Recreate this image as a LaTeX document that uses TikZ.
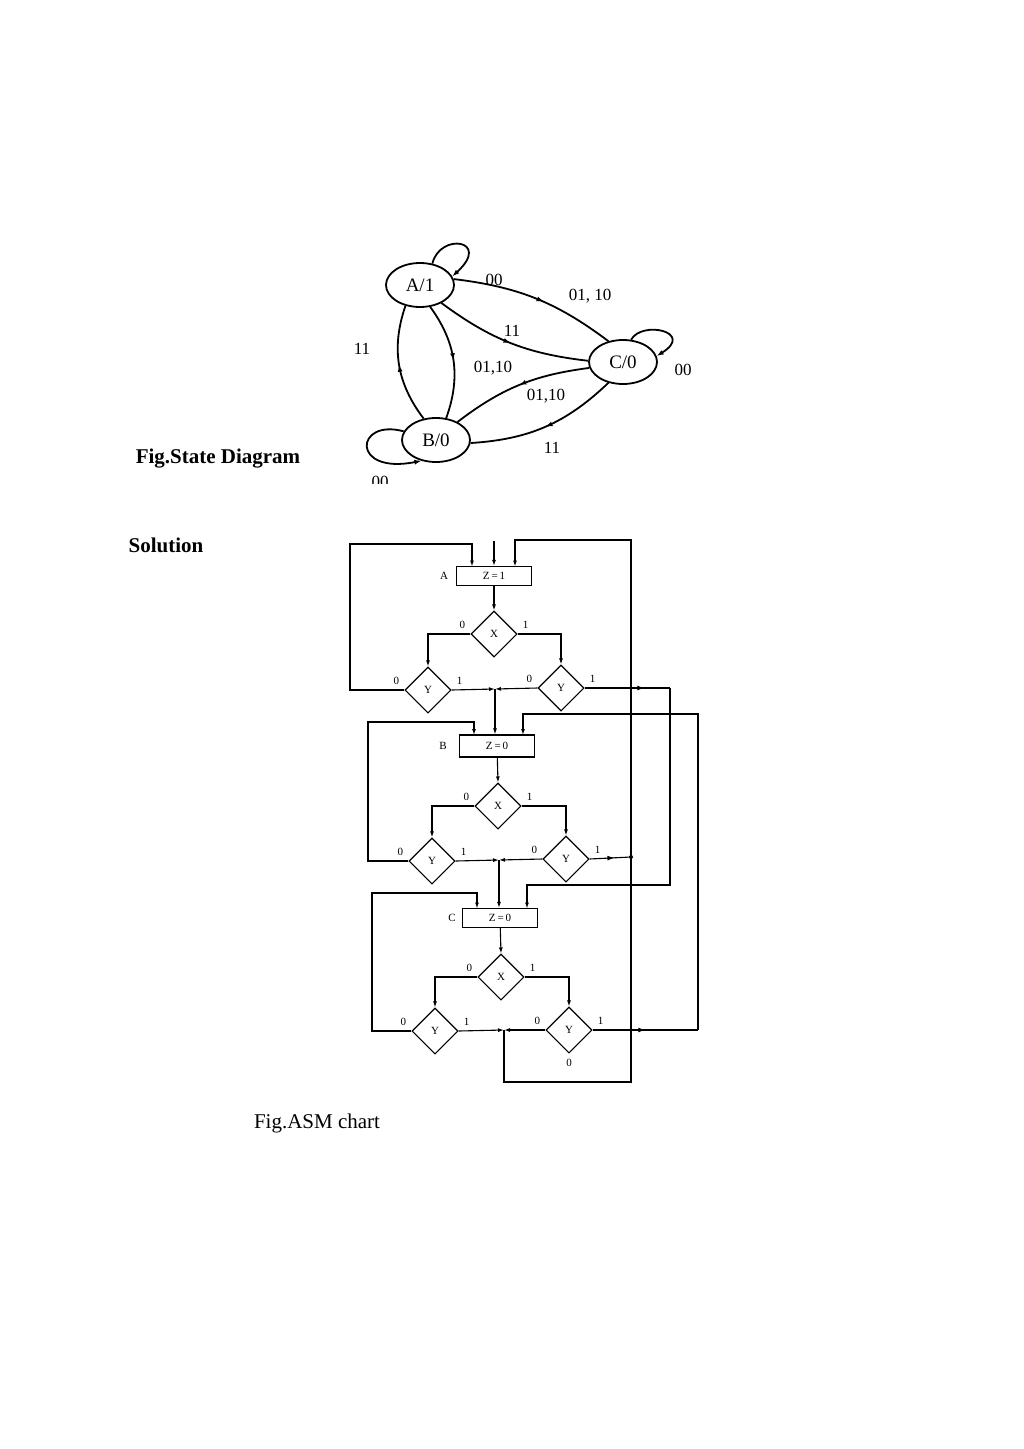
\documentclass[tikz,border=0pt]{standalone}
\usepackage{fontspec}
\setmainfont{Liberation Serif}
\usetikzlibrary{arrows.meta,shapes.geometric,decorations.markings}
\begin{document}
\begin{tikzpicture}[x=1pt,y=-1pt,
  st/.style={draw,ellipse,line width=1.8pt,minimum width=68pt,minimum height=44pt,inner sep=0pt,font=\fontsize{19}{20}\selectfont},
  sl/.style={font=\fontsize{17}{18}\selectfont},
  se/.style={line width=1.8pt},
  midarr/.style={postaction={decorate},decoration={markings,mark=at position #1 with {\arrow{Latex[length=7pt,width=5pt]}}}},
  asm/.style={line width=1.1pt},
  arr/.style={asm,-{Latex[length=6pt,width=4pt]}},
  dec/.style={diamond,draw,line width=1.1pt,minimum width=46pt,minimum height=46pt,inner sep=0pt,font=\fontsize{11}{12}\selectfont},
  stbox/.style={draw,rectangle,line width=1.1pt,minimum width=75pt,minimum height=19pt,inner sep=0pt,font=\fontsize{11}{12}\selectfont},
  lb/.style={font=\fontsize{11}{12}\selectfont}]
\useasboundingbox (0,0) rectangle (1024,1449);
\fill[white] (0,0) rectangle (1024,1449);
% ---------- State diagram ----------
\begin{scope}
\clip (330,240) rectangle (710,483);
\node[st] (A) at (420,285) {A/1};
\node[st] (B) at (436,440) {B/0};
\node[st] (C) at (623,362) {C/0};
\draw[se,-{Latex[length=7pt,width=5pt]}] (A.60) .. controls (440,232) and (492,240) .. (A.15);
\draw[se,-{Latex[length=7pt,width=5pt]}] (C.70) .. controls (642,320) and (695,332) .. (C.10);
\draw[se,-{Latex[length=7pt,width=5pt]}] (B.165) .. controls (355,418) and (350,475) .. (B.-125);
\draw[se,midarr=0.55] (A.10) to[bend left=15] (C.125);
\draw[se,midarr=0.5] (A.-40) to[bend right=15] (C.178);
\draw[se,midarr=0.5] (B.120) to[bend left=28] (A.-125);
\draw[se,midarr=0.5] (A.-65) to[bend left=28] (B.65);
\draw[se,midarr=0.5] (C.190) to[bend right=15] (B.40);
\draw[se,midarr=0.5] (C.-125) to[bend left=20] (B.-5);
\node[sl] at (494,280) {00};
\node[sl] at (590,296) {01, 10};
\node[sl] at (512,331) {11};
\node[sl] at (362,349) {11};
\node[sl] at (493,368) {01,10};
\node[sl] at (546,396) {01,10};
\node[sl] at (552,448) {11};
\node[sl] at (683,370) {00};
\node[sl] at (380,482) {00};
\end{scope}
\node[font=\fontsize{21}{24}\selectfont\bfseries] at (218,459) {Fig.State Diagram};
\node[font=\fontsize{21}{24}\selectfont\bfseries] at (166,545) {Solution};
\node[font=\fontsize{21}{24}\selectfont] at (317,1123) {Fig.ASM chart};
% ---------- ASM chart ----------
% block A
\node[stbox] (ba) at (494,576) {Z\,=\,1};
\node[lb] at (444,576) {A};
\node[dec] (xa) at (494,634) {X};
\node[dec] (ya1) at (428,690) {Y};
\node[dec] (ya2) at (561,688) {Y};
\coordinate (ja) at (495,689);
% block B
\node[stbox,minimum height=22pt] (bb) at (497,746) {Z\,=\,0};
\node[lb] at (443,746) {B};
\node[dec] (xb) at (498,806) {X};
\node[dec] (yb1) at (432,861) {Y};
\node[dec] (yb2) at (566,859) {Y};
\coordinate (jb) at (499,860);
% block C
\node[stbox] (bc) at (500,918) {Z\,=\,0};
\node[lb] at (452,918) {C};
\node[dec] (xc) at (501,977) {X};
\node[dec] (yc1) at (435,1031) {Y};
\node[dec] (yc2) at (569,1030) {Y};
\coordinate (jc) at (504,1030);
% labels
\foreach \n/\dx in {xa/0,xb/0,xc/0,ya1/0,ya2/0,yb1/0,yb2/0,yc1/0,yc2/0}{
  \node[lb] at ([xshift=-8pt,yshift=9pt]\n.west) {0};
  \node[lb] at ([xshift=8pt,yshift=9pt]\n.east) {1};
}
\node[lb] at ([yshift=-9pt]yc2.south) {0};
% flow inside blocks
\foreach \b/\x/\ya/\yb/\j in {ba/xa/ya1/ya2/ja,bb/xb/yb1/yb2/jb,bc/xc/yc1/yc2/jc}{
  \draw[arr] (\b) -- (\x.north);
  \draw[arr] (\x.west) -| (\ya.north);
  \draw[arr] (\x.east) -| (\yb.north);
  \draw[arr] (\ya.east) -- (\j);
  \draw[arr] (\yb.west) -- (\j);
}
\draw[arr] (ja) -- (ja |- bb.north);
\draw[arr] (jb) -- (jb |- bc.north);
% entry into A
\coordinate (ina) at (494,541);
\draw[arr] (ina) -- (ba.north);
% left self loops
\draw[arr] (ya1.west) -- (350,690) -- (350,544) -- (472,544) -- (472,566.5);
\draw[arr] (yb1.west) -- (368,861) -- (368,722) -- (474,722) -- (474,735);
\draw[arr] (yc1.west) -- (372,1031) -- (372,893) -- (477,893) -- (477,908.5);
% big return line to A
\coordinate (tp) at (631,857);
\draw[arr] (jc) -- (504,1082) -- (631,1082) -- (631,540) -- (515,540) -- (515,566.5);
\draw[asm,midarr=0.6] (yb2.east) -- (tp);
\fill (tp) circle (2pt);
% A 11 -> C
\draw[asm,midarr=0.7] (ya2.east) -- (670,688);
\draw[arr] (670,688) -- (670,885) -- (527,885) -- (527,908.5);
% C 11 -> B
\draw[asm,midarr=0.5] (yc2.east) -- (698,1030);
\draw[arr] (698,1030) -- (698,714) -- (523,714) -- (523,735);
\end{tikzpicture}
\end{document}
